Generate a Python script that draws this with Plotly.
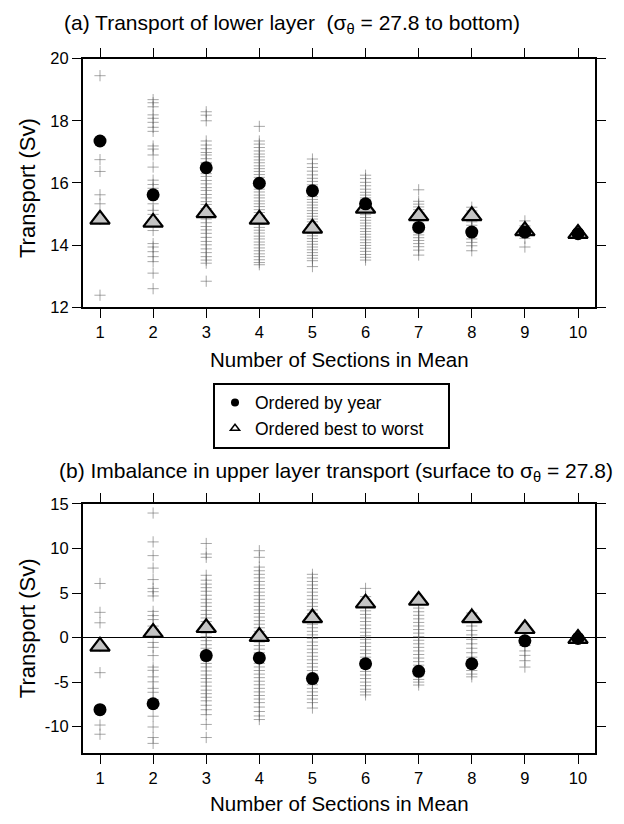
import plotly.graph_objects as go

# ---------------- data ----------------
sections = [1, 2, 3, 4, 5, 6, 7, 8, 9, 10]

# (a) lower layer transport, individual combinations (Sv)
lower_spread = [
    [19.45, 17.35, 16.75, 16.37, 15.62, 15.33, 14.83, 12.39],
    [18.68, 18.58, 18.45, 18.19, 18.08, 17.95, 17.79, 17.66, 17.19, 17.09, 16.90, 16.51, 16.09, 15.95,
     15.83, 15.62, 15.33, 15.12, 14.99, 14.83, 14.47, 14.05, 13.94, 13.79, 13.63, 13.47, 13.10, 12.60],
    [18.29, 18.18, 18.00, 17.35, 17.22, 17.10, 16.98, 16.90, 16.78, 16.66, 16.55, 16.42, 16.30, 16.21,
     16.08, 15.97, 15.85, 15.76, 15.63, 15.52, 15.40, 15.31, 15.18, 15.07, 14.95, 14.84, 14.72, 14.60,
     14.49, 14.38, 14.25, 14.12, 14.01, 13.88, 13.76, 13.63, 13.52, 13.42, 12.84],
    [17.82, 17.35, 17.25, 17.14, 17.03, 16.93, 16.84, 16.74, 16.65, 16.55, 16.46, 16.37, 16.27, 16.18,
     16.08, 15.99, 15.90, 15.80, 15.71, 15.61, 15.52, 15.42, 15.33, 15.24, 15.14, 15.05, 14.95, 14.86,
     14.76, 14.67, 14.57, 14.48, 14.39, 14.29, 14.20, 14.10, 14.01, 13.91, 13.82, 13.72, 13.63, 13.53,
     13.44, 13.37],
    [16.77, 16.62, 16.50, 16.38, 16.26, 16.15, 16.05, 15.94, 15.84, 15.75, 15.65, 15.56, 15.47, 15.38,
     15.29, 15.20, 15.11, 15.02, 14.93, 14.84, 14.75, 14.66, 14.57, 14.48, 14.39, 14.30, 14.21, 14.12,
     14.03, 13.94, 13.85, 13.76, 13.67, 13.58, 13.50, 13.31],
    [16.25, 16.14, 16.02, 15.91, 15.80, 15.70, 15.61, 15.52, 15.43, 15.34, 15.25, 15.16, 15.07, 14.98,
     14.89, 14.80, 14.71, 14.62, 14.53, 14.44, 14.35, 14.26, 14.17, 14.08, 13.99, 13.90, 13.80, 13.70,
     13.61, 13.52],
    [15.78, 15.41, 15.32, 15.23, 15.14, 15.05, 14.96, 14.87, 14.78, 14.69, 14.60, 14.51, 14.42, 14.33,
     14.24, 14.15, 14.05, 13.95, 13.84, 13.68],
    [15.22, 15.10, 14.98, 14.86, 14.75, 14.64, 14.53, 14.42, 14.31, 14.20, 14.09, 13.98, 13.82],
    [14.78, 14.62, 14.50, 14.38, 14.22, 13.94],
    [14.37],
]
lower_by_year = [17.35, 15.62, 16.49, 15.99, 15.75, 15.33, 14.57, 14.42, 14.42, 14.37]
lower_best_to_worst = [14.83, 14.73, 15.04, 14.83, 14.54, 15.18, 14.94, 14.94, 14.46, 14.37]

# (b) upper layer imbalance, individual combinations (Sv)
upper_spread = [
    [6.07, 2.83, 1.66, -0.99, -3.94, -8.09, -9.82, -10.85],
    [13.98, 10.74, 9.20, 7.80, 6.51, 5.52, 5.15, 4.67, 2.94, 2.47, 2.02, 1.29, 0.92, 0.55, -0.55, -1.10,
     -2.02, -3.31, -3.68, -4.41, -4.97, -5.70, -6.14, -6.99, -7.43, -8.83, -10.04, -11.22, -11.88],
    [10.56, 9.38, 9.01, 6.99, 6.44, 6.00, 5.60, 5.20, 4.75, 4.30, 3.90, 3.50, 3.05, 2.60, 2.20, 1.80,
     1.35, 0.95, 0.50, 0.10, -0.35, -0.80, -1.20, -1.60, -2.05, -2.50, -2.90, -3.30, -3.75, -4.20,
     -4.60, -5.00, -5.45, -5.90, -6.30, -6.70, -7.10, -7.60, -8.10, -8.65, -9.75, -11.22],
    [9.75, 9.01, 7.91, 7.50, 7.10, 6.70, 6.30, 5.90, 5.50, 5.10, 4.70, 4.30, 3.90, 3.50, 3.10, 2.70,
     2.30, 1.90, 1.50, 1.10, 0.70, 0.30, -0.10, -0.50, -0.90, -1.30, -1.70, -2.10, -2.50, -2.90, -3.30,
     -3.70, -4.10, -4.50, -4.90, -5.30, -5.70, -6.10, -6.50, -6.90, -7.30, -7.80, -8.30, -8.80, -9.20],
    [7.10, 6.70, 6.30, 5.90, 5.50, 5.10, 4.70, 4.30, 3.90, 3.50, 3.10, 2.70, 2.30, 1.90, 1.50, 1.10,
     0.70, 0.30, -0.10, -0.50, -0.90, -1.30, -1.70, -2.10, -2.50, -2.90, -3.30, -3.70, -4.10, -4.50,
     -4.90, -5.30, -5.70, -6.10, -6.50, -6.90, -7.30, -7.91],
    [5.52, 4.60, 4.20, 3.80, 3.40, 3.00, 2.60, 2.20, 1.80, 1.40, 1.00, 0.60, 0.20, -0.20, -0.60, -1.00,
     -1.40, -1.80, -2.20, -2.60, -3.00, -3.40, -3.80, -4.20, -4.60, -5.00, -5.40, -5.80, -6.10, -6.44],
    [3.31, 2.90, 2.50, 2.10, 1.70, 1.30, 0.90, 0.50, 0.10, -0.30, -0.70, -1.10, -1.50, -1.90, -2.30,
     -2.70, -3.10, -3.50, -3.90, -4.30, -4.70, -5.00, -5.33],
    [2.76, 2.30, 1.80, 1.30, 0.80, 0.30, -0.20, -0.70, -1.20, -1.70, -2.20, -2.70, -3.20, -3.70, -4.10,
     -4.41],
    [0.55, -0.37, -0.90, -1.50, -2.00, -2.60, -3.31],
    [-0.10],
]
upper_by_year = [-8.09, -7.43, -2.02, -2.28, -4.60, -2.94, -3.79, -2.94, -0.37, -0.10]
upper_best_to_worst = [-0.99, 0.55, 1.10, 0.11, 2.20, 3.86, 4.16, 2.20, 0.99, -0.11]

x_ticks = [1, 2, 3, 4, 5, 6, 7, 8, 9, 10]
lower_y_ticks = [12, 14, 16, 18, 20]
upper_y_ticks = [-10, -5, 0, 5, 10, 15]
upper_y_ticktext = ["-10", "-5", "0", "5", "10", "15"]

# ---------------- figure ----------------
FONT = "Liberation Sans, Arial, Helvetica, sans-serif"
CROSS = dict(symbol="cross-thin", size=8, color="rgba(95,95,95,0.55)",
             line=dict(color="rgba(95,95,95,0.55)", width=1))
TRI = dict(symbol="triangle-up", size=17, color="#c4c4c4", line=dict(color="black", width=2.2))
DOT = dict(symbol="circle", size=13, color="black", line=dict(color="black", width=0))

fig = go.Figure()


def add_panel(spread, by_year, best, xa, ya):
    xs, ys = [], []
    for s, vals in zip(sections, spread):
        xs += [s] * len(vals)
        ys += vals
    fig.add_trace(go.Scatter(x=xs, y=ys, mode="markers", marker=CROSS, showlegend=False,
                             xaxis=xa, yaxis=ya, hoverinfo="skip"))
    fig.add_trace(go.Scatter(x=sections, y=best, mode="markers", marker=TRI, showlegend=False,
                             xaxis=xa, yaxis=ya))
    fig.add_trace(go.Scatter(x=sections, y=by_year, mode="markers", marker=DOT, showlegend=False,
                             xaxis=xa, yaxis=ya))


add_panel(lower_spread, lower_by_year, lower_best_to_worst, "x", "y")
add_panel(upper_spread, upper_by_year, upper_best_to_worst, "x2", "y2")

# legend-only entries (small symbols as in the original key)
fig.add_trace(go.Scatter(x=[None], y=[None], mode="markers", name="Ordered by year",
                         marker=dict(symbol="circle", size=8, color="black"), legendgroup="a"))
fig.add_trace(go.Scatter(x=[None], y=[None], mode="markers",
                         name="Ordered best to worst\u00a0\u00a0\u00a0\u00a0",
                         marker=dict(symbol="triangle-up", size=8, color="white",
                                     line=dict(color="black", width=1.5)), legendgroup="b"))

W, H = 624, 824
x_dom = [83 / W, 595 / W]

axis_common = dict(showline=True, linewidth=2, linecolor="black", mirror="ticks",
                   ticks="outside", ticklen=9, tickwidth=1, tickcolor="black",
                   showgrid=False, zeroline=False,
                   tickfont=dict(family=FONT, size=16.5, color="black"))

fig.update_layout(
    width=W, height=H,
    margin=dict(l=0, r=0, t=0, b=0),
    paper_bgcolor="white", plot_bgcolor="white",
    font=dict(family=FONT, color="black"),
    xaxis=dict(axis_common, domain=x_dom, range=[0.68, 10.32], tickvals=x_ticks, anchor="y"),
    yaxis=dict(axis_common, domain=[1 - 305 / H, 1 - 50.7 / H], range=[12, 20],
               tickvals=lower_y_ticks, anchor="x"),
    xaxis2=dict(axis_common, domain=x_dom, range=[0.68, 10.32], tickvals=x_ticks, anchor="y2"),
    yaxis2=dict(axis_common, domain=[1 - 761 / H, 1 - 506 / H], range=[-13, 15],
                tickvals=upper_y_ticks, ticktext=upper_y_ticktext, anchor="x2",
                zeroline=True, zerolinecolor="black", zerolinewidth=1.2),
    legend=dict(x=213 / W, y=1 - 382 / H, xanchor="left", yanchor="top",
                bordercolor="black", borderwidth=2, bgcolor="white",
                font=dict(family=FONT, size=17.5, color="black"),
                tracegroupgap=0, itemwidth=30),
    showlegend=True,
)

ann = [
    dict(text="(a) Transport of lower layer \u00a0(σ<sub>θ</sub> = 27.8 to bottom)",
         x=292 / W, y=1 - 15 / H, size=21, angle=0),
    dict(text="(b) Imbalance in upper layer transport (surface to σ<sub>θ</sub> = 27.8)",
         x=336 / W, y=1 - 473 / H, size=21, angle=0),
    dict(text="Number of Sections in Mean", x=340 / W, y=1 - 358 / H, size=20.5, angle=0),
    dict(text="Number of Sections in Mean", x=340 / W, y=1 - 812 / H, size=20.5, angle=0),
    dict(text="Transport (Sv)", x=27 / W, y=1 - 183 / H, size=22, angle=-90),
    dict(text="Transport (Sv)", x=27 / W, y=1 - 633 / H, size=22, angle=-90),
]
for a in ann:
    fig.add_annotation(text=a["text"], x=a["x"], y=a["y"], xref="paper", yref="paper",
                       xanchor="center", yanchor="middle", showarrow=False, textangle=a["angle"],
                       font=dict(family=FONT, size=a["size"], color="black"))

fig.write_html("out.html")
